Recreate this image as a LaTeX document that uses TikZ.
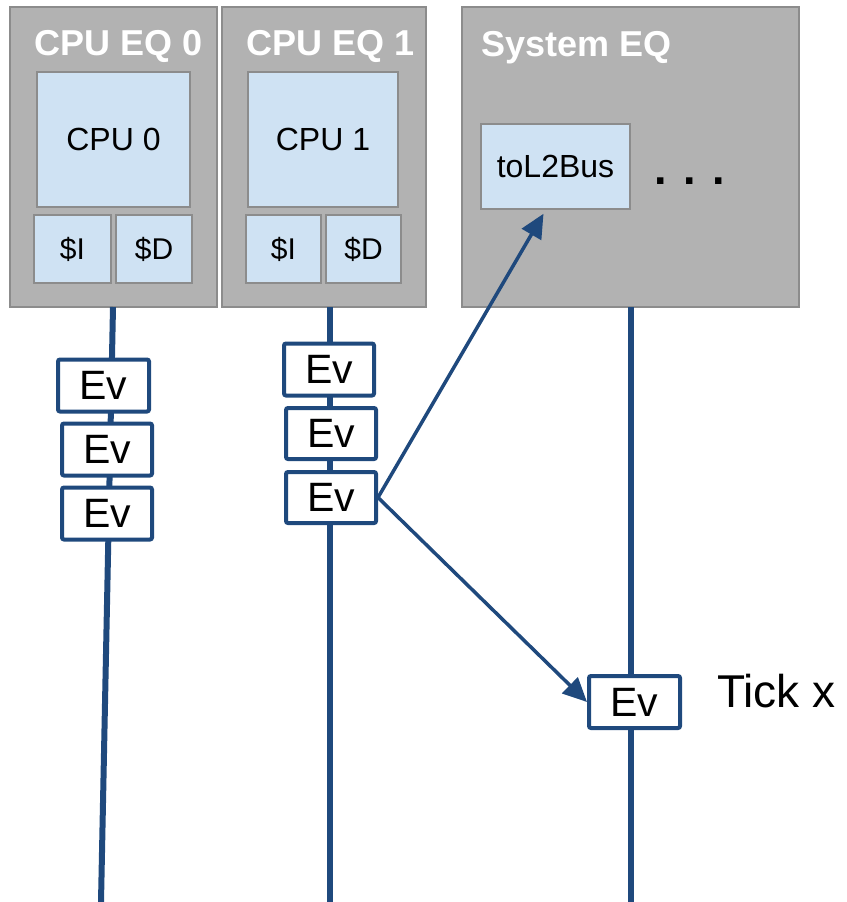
\documentclass[tikz,border=0pt]{standalone}
\usepackage{fontspec}
\setmainfont{Liberation Sans}
\usetikzlibrary{arrows.meta}
\definecolor{eqgray}{HTML}{B2B2B2}
\definecolor{eqedge}{HTML}{8C8C8C}
\definecolor{unitblue}{HTML}{CFE2F3}
\definecolor{lineblue}{HTML}{1F497D}
\newcommand{\fs}[1]{\fontsize{#1}{#1}\selectfont}
\tikzset{
  eqbox/.style={draw=eqedge, line width=1.5pt, fill=eqgray, inner sep=0pt},
  unitbox/.style={draw=eqedge, line width=1.5pt, fill=unitblue, inner sep=0pt, text=black},
  eqtitle/.style={anchor=base west, text=white, font=\bfseries\fs{36}, inner sep=0pt},
  evbox/.style={draw=lineblue, line width=4pt, fill=white, rounded corners=2pt,
    inner sep=0pt, minimum width=90pt, minimum height=52pt, font=\fs{41}},
  queue/.style={draw=lineblue, line width=6pt},
  arr/.style={draw=lineblue, line width=3.5pt,
    -{Triangle[length=24pt, width=22pt]}},
}
\begin{document}
\begin{tikzpicture}[x=1pt, y=-1pt]
\useasboundingbox (0,0) rectangle (846,902);

% event queue containers
\node[eqbox, minimum width=207pt, minimum height=300pt] (eq0) at (113.5,157) {};
\node[eqbox, minimum width=204pt, minimum height=300pt] (eq1) at (324,157) {};
\node[eqbox, minimum width=337pt, minimum height=300pt] (sys) at (630.5,157) {};
\node[eqtitle] (t0) at (34,55) {CPU EQ 0};
\node[eqtitle] (t1) at (246,55) {CPU EQ 1};
\node[eqtitle] (t2) at (481,56) {System EQ};

% components attached to each queue
\node[unitbox, minimum width=153pt, minimum height=135pt, font=\fs{32}] (cpu0) at (113.5,139.5) {CPU 0};
\node[unitbox, minimum width=77pt, minimum height=68pt, font=\fs{30}] (i0) at (72.5,249) {\$I};
\node[unitbox, minimum width=76pt, minimum height=68pt, font=\fs{30}] (d0) at (154,249) {\$D};
\node[unitbox, minimum width=150pt, minimum height=135pt, font=\fs{32}] (cpu1) at (323,139.5) {CPU 1};
\node[unitbox, minimum width=75pt, minimum height=68pt, font=\fs{30}] (i1) at (283.5,249) {\$I};
\node[unitbox, minimum width=75pt, minimum height=68pt, font=\fs{30}] (d1) at (363.5,249) {\$D};
\node[unitbox, minimum width=149pt, minimum height=85pt, font=\fs{32}] (l2) at (555.5,166.5) {toL2Bus};
\node[anchor=base west, inner sep=0pt, font=\bfseries\fs{45}] (dots) at (654,184) {. . .};

% time lines of the queues
\coordinate (q0top) at (113,307);
\coordinate (q0end) at (101,902);
\coordinate (q1top) at (330,307);
\coordinate (q1end) at (330,902);
\coordinate (q2top) at (631,307);
\coordinate (q2end) at (631,902);
\draw[queue] (q0top) -- (q0end);
\draw[queue] (q1top) -- (q1end);
\draw[queue] (q2top) -- (q2end);

% scheduled events
\node[evbox, minimum width=91pt] (ev0a) at (103.5,385.5) {Ev};
\node[evbox] (ev0b) at (107,449.5) {Ev};
\node[evbox] (ev0c) at (107,513.5) {Ev};
\node[evbox] (ev1a) at (329,369.5) {Ev};
\node[evbox, minimum height=51pt] (ev1b) at (331,433.5) {Ev};
\node[evbox, minimum height=51pt] (ev1c) at (331,497.5) {Ev};
\node[evbox, minimum width=91pt] (ev2) at (634.5,702) {Ev};
\node[anchor=base west, inner sep=0pt, font=\fs{46}] (tick) at (717,707) {Tick x};

% cross-queue scheduling
\draw[arr] (ev1c.east) -- ([xshift=-12pt, yshift=-4pt]l2.south);
\draw[arr] (ev1c.east) -- (ev2.west);
\end{tikzpicture}
\end{document}
